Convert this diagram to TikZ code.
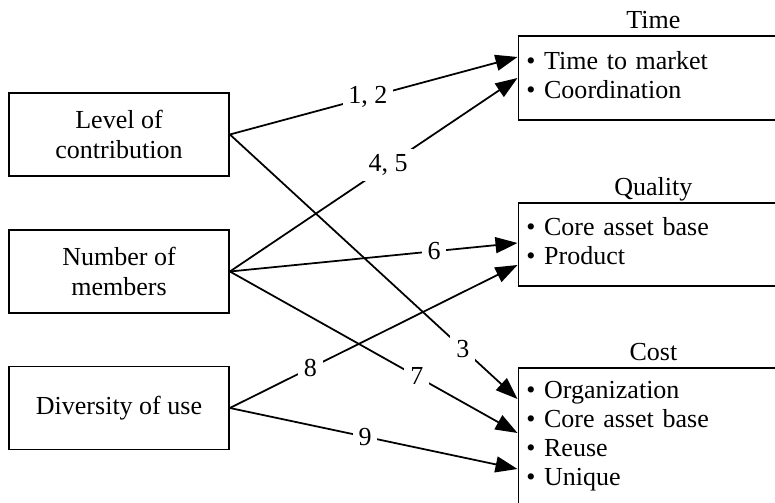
\documentclass[tikz,border=0pt]{standalone}
\usepackage{fontspec}
\setmainfont{Liberation Serif}
\usepackage{tikz}
\usetikzlibrary{arrows.meta,positioning}

\begin{document}
\begin{tikzpicture}[
    >={Triangle[length=0.44cm,width=0.32cm]},
    line width=1pt,
    inbox/.style={draw, minimum width=4.4cm, minimum height=1.66cm, align=center,
        font=\fontsize{14.8}{16.8}\selectfont},
    outbox/.style={draw, anchor=north west, text width=5.08cm, inner xsep=0.16cm,
        inner ysep=0.26cm, align=left, font=\fontsize{14.8}{16.5}\selectfont},
    ttl/.style={font=\fontsize{14.8}{16.5}\selectfont, text depth=0pt},
    lbl/.style={fill=white, font=\fontsize{14.8}{16.5}\selectfont}
]
    \useasboundingbox (0,0) rectangle (15.5,10.04);

    % Factors
    \node[inbox] (level) at (2.38,7.35) {Level of\\contribution};
    \node[inbox] (members) at (2.38,4.61) {Number of\\members};
    \node[inbox] (diversity) at (2.38,1.88) {Diversity of use};

    % Benefits
    \node[outbox, inner ysep=0.32cm, text depth=0.68cm, label={[ttl]above:Time}] (time) at (10.35,9.34)
        {\textbullet\ Time to market\\\textbullet\ Coordination};
    \node[outbox, inner ysep=0.30cm, text depth=0.70cm, label={[ttl]above:Quality}] (quality) at (10.35,6.0)
        {\textbullet\ Core asset base\\\textbullet\ Product};
    \node[outbox, text depth=3cm, label={[ttl]above:Cost}] (cost) at (10.35,2.7)
        {\textbullet\ Organization\\\textbullet\ Core asset base\\\textbullet\ Reuse\\\textbullet\ Unique};

    % Relations
    \draw[->] (level.east) -- node[lbl, pos=0.48] {1, 2} ([yshift=-0.44cm]time.north west);
    \draw[->] (level.east) -- node[lbl, pos=0.81] {3} ([yshift=-0.64cm]cost.north west);
    \draw[->] (members.east) -- node[lbl, pos=0.55] {4, 5} ([yshift=-0.86cm]time.north west);
    \draw[->] (members.east) -- node[lbl, pos=0.71] {6} ([yshift=-0.82cm]quality.north west);
    \draw[->] (members.east) -- node[lbl, pos=0.65] {7} ([yshift=-1.32cm]cost.north west);
    \draw[->] (diversity.east) -- node[lbl, pos=0.28] {8} ([yshift=-1.26cm]quality.north west);
    \draw[->] (diversity.east) -- node[lbl, pos=0.47] {9} ([yshift=-2.04cm]cost.north west);
\end{tikzpicture}
\end{document}
